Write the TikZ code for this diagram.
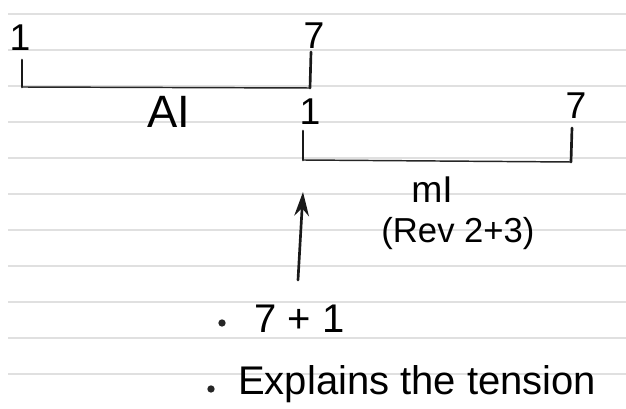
\documentclass[tikz,border=0pt]{standalone}
\usepackage{fontspec}
\setmainfont{Liberation Sans}
\usetikzlibrary{arrows.meta}
\begin{document}
\begin{tikzpicture}[x=0.75pt,y=-0.75pt,
  rule/.style={draw=black!12, line width=0.9pt},
  ink/.style={draw=black!90, line width=2pt, line cap=round},
  thinink/.style={draw=black!85, line width=1.1pt, line cap=round},
  num/.style={inner sep=0pt, font=\fontsize{28}{30}\selectfont},
  hand/.style={inner sep=0pt, font=\fontsize{26}{30}\selectfont},
  bullet/.style={circle, fill=black!85, inner sep=0pt, minimum size=5.5pt}]
\fill[white] (0,0) rectangle (626,409);
\useasboundingbox (0,0) rectangle (626,409);
% ruled lines
\foreach \yy in {14,50,86,122,158,194,230,266,302,338,374}
  \draw[rule] (8,\yy) -- (626,\yy);
% AI interval
\coordinate (a1t) at (22,60);
\coordinate (a1b) at (22,87);
\coordinate (a7t) at (311,52);
\coordinate (a7b) at (310,88);
\draw[ink] (a1t) -- (a1b);
\draw[ink] (a7t) -- (a7b);
\draw[thinink] (a1b) -- (a7b);
\node[num] (la1) at (20,38) {1};
\node[num] (la7) at (314,36) {7};
\node[hand, font=\fontsize{34}{36}\selectfont] (lai) at (169,112) {AI};
% MI interval
\coordinate (m1t) at (303,131);
\coordinate (m1b) at (303,160);
\coordinate (m7t) at (572,128);
\coordinate (m7b) at (571,162);
\draw[ink] (m1t) -- (m1b);
\draw[ink] (m7t) -- (m7b);
\draw[thinink] (m1b) -- (m7b);
\node[num] (lm1) at (310,112) {1};
\node[num] (lm7) at (576,106) {7};
\node[hand, font=\fontsize{28}{30}\selectfont] (lmi) at (432,190) {mI};
\node[hand, font=\fontsize{26}{30}\selectfont] (lrev) at (458,234) {(Rev 2+3)};
% arrow
\coordinate (arb) at (298,280);
\coordinate (art) at (303,192);
\draw[ink, -{Stealth[length=18pt,width=11pt]}] (arb) -- (art);
% bullets
\node[bullet] (b1) at (222,323) {};
\node[hand, font=\fontsize{30}{32}\selectfont, anchor=west] (t1) at (254,319) {7 + 1};
\node[bullet] (b2) at (211,389) {};
\node[hand, font=\fontsize{30}{32}\selectfont, anchor=west] (t2) at (238,384) {Explains the tension};
\end{tikzpicture}
\end{document}
